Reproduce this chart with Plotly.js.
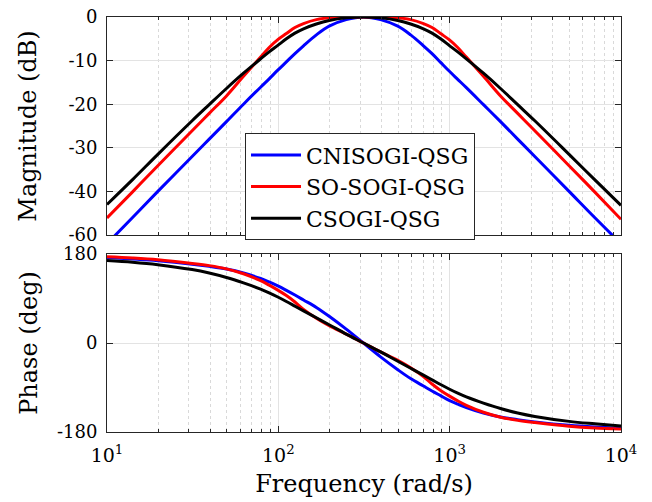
<!DOCTYPE html>
<html>
<head>
<meta charset="utf-8">
<script src="https://cdn.plot.ly/plotly-3.0.1.min.js"></script>
<style>
  html, body { margin: 0; padding: 0; background: #ffffff; }
  #chart { width: 652px; height: 502px; }
</style>
</head>
<body>
<div id="chart"></div>
<script>
// Frequency samples (rad/s)
const freq = [10, 14.1, 19.8, 31.4, 39.5, 49.8, 62.6, 78.8, 88.4, 99.3, 111.4, 125, 140.3, 166.7, 198, 249,
              314,
              395, 498, 592, 703, 789, 885, 993, 1114, 1251, 1575, 1981, 2494, 3140, 4977, 7018, 10000];

const seriesNames = ['CNISOGI-QSG', 'SO-SOGI-QSG', 'CSOGI-QSG'];
const seriesColors = ['#0000ff', '#ff0000', '#000000'];

// Magnitude (dB)
const magCNISOGI = [-52.0, -46.0, -40.0, -32.0, -28.0, -24.0, -20.0, -16.1, -14.2, -12.2, -10.3, -8.4, -6.6, -4.1, -2.1, -0.6,
                    0,
                    -0.6, -2.1, -4.1, -6.6, -8.4, -10.4, -12.4, -14.3, -16.2, -20.1, -24.0, -28.0, -32.0, -40.0, -46.0, -52.0];
const magSOSOGI  = [-46.1, -40.1, -34.1, -26.1, -22.1, -18.1, -13.6, -9.2, -7.0, -5.2, -3.8, -2.4, -1.5, -0.6, -0.2, -0.03,
                    0,
                    -0.03, -0.2, -0.6, -1.5, -2.4, -3.8, -5.2, -7.0, -9.2, -13.6, -18.1, -22.1, -26.1, -34.1, -40.1, -46.4];
const magCSOGI   = [-43.0, -37.3, -31.5, -23.8, -20.1, -16.4, -12.9, -9.6, -8.0, -6.5, -5.0, -3.7, -2.7, -1.6, -0.8, -0.2,
                    0,
                    -0.2, -0.8, -1.6, -2.7, -3.7, -5.0, -6.5, -8.0, -9.6, -12.9, -16.4, -20.1, -23.8, -31.5, -37.3, -43.2];

// Phase (deg)
const phCNISOGI = [173, 170, 166.5, 159.5, 155, 149.5, 141.5, 130.5, 123.5, 115.5, 106.5, 97, 87, 72, 54, 28,
                   0,
                   -28, -54, -72, -87, -97, -106.5, -116, -123.5, -130.5, -141.5, -149.5, -155, -159.5, -166.5, -170, -172.5];
const phSOSOGI  = [174.5, 172, 168.5, 161, 156.5, 150, 140, 126, 117, 107, 96, 83, 68, 50, 35, 18,
                   0,
                   -18, -35, -50, -68, -83, -96, -107, -117, -126, -140, -150, -156.5, -161, -168.5, -172, -174];
const phCSOGI   = [167, 163.5, 158.5, 148.5, 141.5, 132.5, 121.5, 109, 101.5, 93, 84, 74.5, 65, 51, 37, 18,
                   0,
                   -18, -37, -51, -65, -74.5, -84, -93, -101.5, -109, -121.5, -132.5, -141.5, -148.5, -158.5, -163.5, -168];

const magData = [magCNISOGI, magSOSOGI, magCSOGI];
const phData = [phCNISOGI, phSOSOGI, phCSOGI];

// Axis tick labels
const xTickVals = [10, 100, 1000, 10000];
const xTickText = ['10<sup>1</sup>', '10<sup>2</sup>', '10<sup>3</sup>', '10<sup>4</sup>'];
const xMinorVals = [20,30,40,50,60,70,80,90,200,300,400,500,600,700,800,900,2000,3000,4000,5000,6000,7000,8000,9000];
const magTickVals = [-50, -40, -30, -20, -10, 0];
const magTickText = ['-60', '-40', '-30', '-20', '-10', '0'];
const phTickVals = [-180, 0, 180];
const phTickText = ['-180', '0', '180'];

const FONT = 'DejaVu Serif, serif';
const AXC = '#262626';

const traces = [];
for (let i = 0; i < 3; i++) {
  traces.push({
    x: freq, y: magData[i], type: 'scatter', mode: 'lines', name: seriesNames[i],
    line: {color: seriesColors[i], width: 3, shape: 'spline', smoothing: 1},
    xaxis: 'x', yaxis: 'y', showlegend: true
  });
}
for (let i = 0; i < 3; i++) {
  traces.push({
    x: freq, y: phData[i], type: 'scatter', mode: 'lines', name: seriesNames[i],
    line: {color: seriesColors[i], width: 3, shape: 'spline', smoothing: 1},
    xaxis: 'x2', yaxis: 'y2', showlegend: false
  });
}

const xCommon = {
  type: 'log', range: [1, 4],
  tickmode: 'array', tickvals: xTickVals, ticktext: xTickText,
  showline: true, linecolor: AXC, linewidth: 1, mirror: 'allticks',
  ticks: 'inside', ticklen: 6, tickcolor: AXC, tickwidth: 1,
  showgrid: true, gridcolor: '#e3e3e3', gridwidth: 1,
  minor: {tickmode: 'array', tickvals: xMinorVals, ticks: 'inside', ticklen: 3, tickcolor: AXC,
          showgrid: true, gridcolor: '#d9d9d9', griddash: 'dot', gridwidth: 1},
  zeroline: false,
  tickfont: {family: FONT, size: 19, color: '#000'}
};

const layout = {
  width: 652, height: 502,
  margin: {l: 107, r: 31, t: 17, b: 70},
  paper_bgcolor: '#ffffff', plot_bgcolor: '#ffffff',
  font: {family: FONT, color: '#000'},
  showlegend: true,
  legend: {
    x: 0.2685, y: 0.72, xanchor: 'left', yanchor: 'top',
    bgcolor: '#ffffff', bordercolor: AXC, borderwidth: 1,
    font: {family: FONT, size: 22, color: '#000'},
    itemwidth: 50,
    tracegroupgap: 0
  },
  xaxis: Object.assign({}, xCommon, {domain: [0, 1], anchor: 'y', showticklabels: false}),
  xaxis2: Object.assign({}, xCommon, {domain: [0, 1], anchor: 'y2', showticklabels: true, ticklabelstandoff: 6,
    title: {text: 'Frequency (rad/s)', font: {family: FONT, size: 24, color: '#000'}, standoff: 10}}),
  yaxis: {
    domain: [0.4747, 1], anchor: 'x', range: [-50, 0],
    tickmode: 'array', tickvals: magTickVals, ticktext: magTickText,
    showline: true, linecolor: AXC, linewidth: 1, mirror: 'ticks',
    ticks: 'inside', ticklen: 6, tickcolor: AXC,
    showgrid: true, gridcolor: '#e3e3e3', zeroline: false,
    tickfont: {family: FONT, size: 18, color: '#000'}, ticklabelstandoff: 5,
    title: {text: 'Magnitude (dB)', font: {family: FONT, size: 24, color: '#000'}, standoff: 24}
  },
  yaxis2: {
    domain: [0, 0.4289], anchor: 'x2', range: [-180, 180],
    tickmode: 'array', tickvals: phTickVals, ticktext: phTickText,
    showline: true, linecolor: AXC, linewidth: 1, mirror: 'ticks',
    ticks: 'inside', ticklen: 6, tickcolor: AXC,
    showgrid: true, gridcolor: '#e3e3e3', zeroline: false,
    tickfont: {family: FONT, size: 18, color: '#000'}, ticklabelstandoff: 5,
    title: {text: 'Phase (deg)', font: {family: FONT, size: 24, color: '#000'}, standoff: 12}
  }
};

Plotly.newPlot('chart', traces, layout, {staticPlot: true, displayModeBar: false});
</script>
</body>
</html>
